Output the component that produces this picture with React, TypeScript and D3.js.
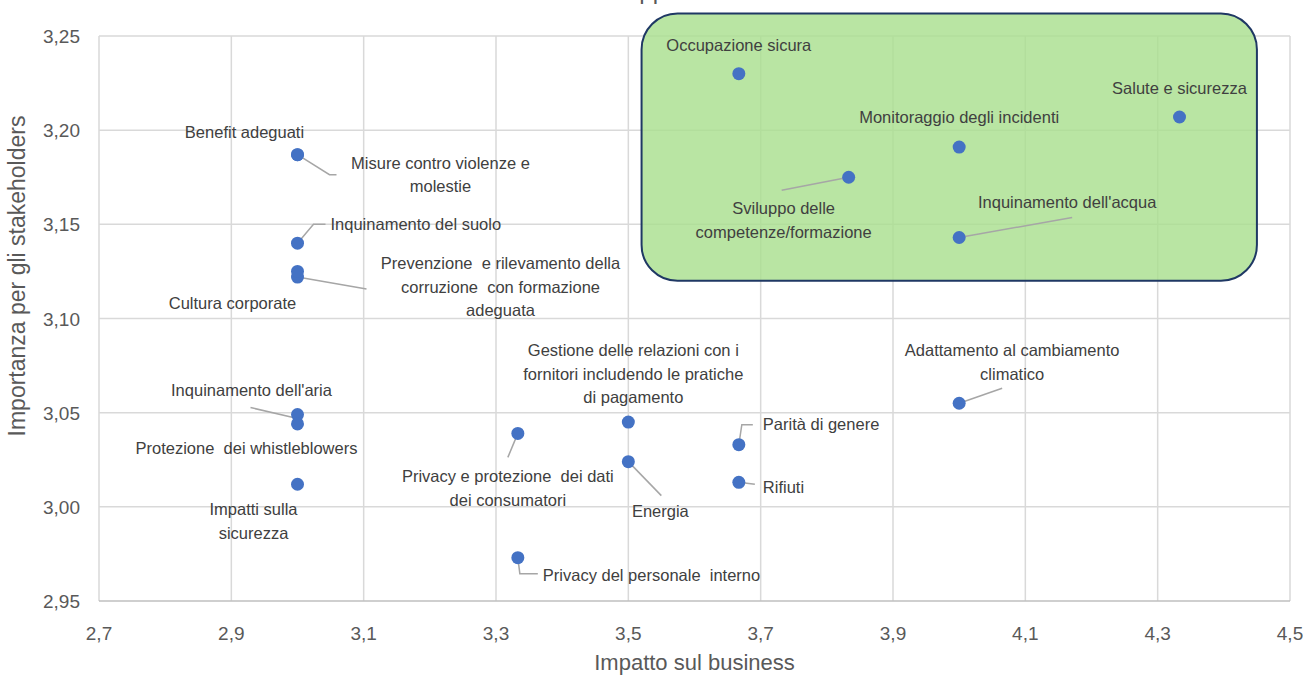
import * as React from 'react'
import * as d3 from 'd3'

// topics, business impact (x) and stakeholder importance (y)
const topics = [
  'Occupazione sicura',
  'Salute e sicurezza',
  'Monitoraggio degli incidenti',
  'Sviluppo delle competenze/formazione',
  "Inquinamento dell'acqua",
  'Benefit adeguati',
  'Misure contro violenze e molestie',
  'Inquinamento del suolo',
  'Prevenzione e rilevamento della corruzione con formazione adeguata',
  'Cultura corporate',
  "Inquinamento dell'aria",
  'Protezione dei whistleblowers',
  'Impatti sulla sicurezza',
  'Privacy e protezione dei dati dei consumatori',
  'Gestione delle relazioni con i fornitori includendo le pratiche di pagamento',
  'Energia',
  'Privacy del personale interno',
  'Parità di genere',
  'Rifiuti',
  'Adattamento al cambiamento climatico',
]
const impatto = [3.667, 4.333, 4.0, 3.833, 4.0, 3.0, 3.0, 3.0, 3.0, 3.0, 3.0, 3.0, 3.0, 3.333, 3.5, 3.5, 3.333, 3.667, 3.667, 4.0]
const importanza = [3.23, 3.207, 3.191, 3.175, 3.143, 3.187, 3.187, 3.14, 3.122, 3.125, 3.049, 3.044, 3.012, 3.039, 3.045, 3.024, 2.973, 3.033, 3.013, 3.055]

const xTicks = [2.7, 2.9, 3.1, 3.3, 3.5, 3.7, 3.9, 4.1, 4.3, 4.5]
const yTicks = [2.95, 3.0, 3.05, 3.1, 3.15, 3.2, 3.25]

// highlighted region (data units)
const highlightX = [3.52, 4.45]
const highlightY = [3.12, 3.262]

// label placement relative to the dot, in pixels
type Lab = { lines: string[]; dx: number; dy: number; anchor?: string; leader?: number[][] }
const labels: Lab[] = [
  { lines: ['Occupazione sicura'], dx: 0, dy: -23 },
  { lines: ['Salute e sicurezza'], dx: 0, dy: -23 },
  { lines: ['Monitoraggio degli incidenti'], dx: 0, dy: -24 },
  { lines: ['Sviluppo delle', 'competenze/formazione'], dx: -65, dy: 37, leader: [[0, 0], [-67, 13]] },
  { lines: ["Inquinamento dell'acqua"], dx: 108, dy: -30, leader: [[0, 0], [113, -20]] },
  { lines: ['Benefit adeguati'], dx: -53, dy: -17 },
  { lines: ['Misure contro violenze e', 'molestie'], dx: 143, dy: 14, leader: [[0, 0], [32, 20], [39, 20]] },
  { lines: ['Inquinamento del suolo'], dx: 33, dy: -13, anchor: 'start', leader: [[0, 0], [16, -19], [28, -19]] },
  { lines: ['Prevenzione  e rilevamento della', 'corruzione  con formazione', 'adeguata'], dx: 203, dy: -8, leader: [[0, 0], [69, 12]] },
  { lines: ['Cultura corporate'], dx: -65, dy: 38 },
  { lines: ["Inquinamento dell'aria"], dx: -46, dy: -19, leader: [[0, 4], [-47, -7]] },
  { lines: ['Protezione  dei whistleblowers'], dx: -51, dy: 30 },
  { lines: ['Impatti sulla', 'sicurezza'], dx: -44, dy: 31 },
  { lines: ['Privacy e protezione  dei dati', 'dei consumatori'], dx: -10, dy: 49, leader: [[0, 0], [-10, 24]] },
  { lines: ['Gestione delle relazioni con i', 'fornitori includendo le pratiche', 'di pagamento'], dx: 5, dy: -66 },
  { lines: ['Energia'], dx: 32, dy: 55, leader: [[0, 0], [33, 34]] },
  { lines: ['Privacy del personale  interno'], dx: 25, dy: 23, anchor: 'start', leader: [[0, 0], [2, 16], [20, 16]] },
  { lines: ['Parità di genere'], dx: 24, dy: -15, anchor: 'start', leader: [[0, 0], [3, -20], [14, -20]] },
  { lines: ['Rifiuti'], dx: 24, dy: 11, anchor: 'start', leader: [[0, 0], [16, 2]] },
  { lines: ['Adattamento al cambiamento', 'climatico'], dx: 53, dy: -47, leader: [[0, 0], [43, -15]] },
]

const W = 1303
const H = 675
const m = { left: 99, right: 1290, top: 36, bottom: 601 }
const font = "'Liberation Sans', Arial, sans-serif"

export default function App() {
  const x = d3.scaleLinear().domain([2.7, 4.5]).range([m.left, m.right])
  const y = d3.scaleLinear().domain([2.95, 3.25]).range([m.bottom, m.top])
  const line = d3.line()
  const fmtX = (v: number) => d3.format('.1f')(v).replace('.', ',')
  const fmtY = (v: number) => d3.format('.2f')(v).replace('.', ',')

  return (
    <svg width={W} height={H} style={{ position: 'absolute', left: 0, top: 0, background: '#fff' }} fontFamily={font}>
      {/* title, cropped at the top edge as in the source image */}
      <text x={652} y={-1} textAnchor="middle" fontSize={24} fill="#595959">Matrice di doppia materialità</text>

      {/* grid */}
      {xTicks.map(t => (
        <line key={'gx' + t} x1={x(t)} x2={x(t)} y1={m.top} y2={m.bottom} stroke="#d9d9d9" strokeWidth={1.5} />
      ))}
      {yTicks.map(t => (
        <line key={'gy' + t} x1={m.left} x2={m.right} y1={y(t)} y2={y(t)} stroke={t === 2.95 ? '#bfbfbf' : '#d9d9d9'} strokeWidth={1.5} />
      ))}

      {/* highlight box */}
      <rect
        x={x(highlightX[0])} y={y(highlightY[1])}
        width={x(highlightX[1]) - x(highlightX[0])} height={y(highlightY[0]) - y(highlightY[1])}
        rx={36} ry={36} fill="#a9df8f" fillOpacity={0.82} stroke="#1f3864" strokeWidth={2}
      />

      {/* tick labels */}
      {xTicks.map(t => (
        <text key={'tx' + t} x={x(t)} y={640} textAnchor="middle" fontSize={19} fill="#595959">{fmtX(t)}</text>
      ))}
      {yTicks.map(t => (
        <text key={'ty' + t} x={80} y={y(t) + 7} textAnchor="end" fontSize={19} fill="#595959">{fmtY(t)}</text>
      ))}

      {/* axis titles */}
      <text x={(m.left + m.right) / 2} y={670} textAnchor="middle" fontSize={22} fill="#595959">Impatto sul business</text>
      <text transform="translate(25,276) rotate(-90)" textAnchor="middle" fontSize={23} fill="#595959">
        Importanza per gli stakeholders
      </text>

      {/* leaders */}
      {labels.map((l, i) => l.leader ? (
        <path key={'ld' + i}
          d={line(l.leader.map(p => [x(impatto[i]) + p[0], y(importanza[i]) + p[1]]) as [number, number][]) || ''}
          fill="none" stroke="#a6a6a6" strokeWidth={1.5} />
      ) : null)}

      {/* points */}
      {topics.map((t, i) => (
        <circle key={'p' + i} cx={x(impatto[i])} cy={y(importanza[i])} r={6.5} fill="#4472c4" />
      ))}

      {/* labels */}
      {labels.map((l, i) => (
        <text key={'lb' + i} fontSize={16.5} fill="#404040" textAnchor={l.anchor || 'middle'} style={{ whiteSpace: 'pre' }}>
          {l.lines.map((s, j) => (
            <tspan key={j} x={x(impatto[i]) + l.dx} y={y(importanza[i]) + l.dy + j * 23.5}>{s}</tspan>
          ))}
        </text>
      ))}
    </svg>
  )
}
